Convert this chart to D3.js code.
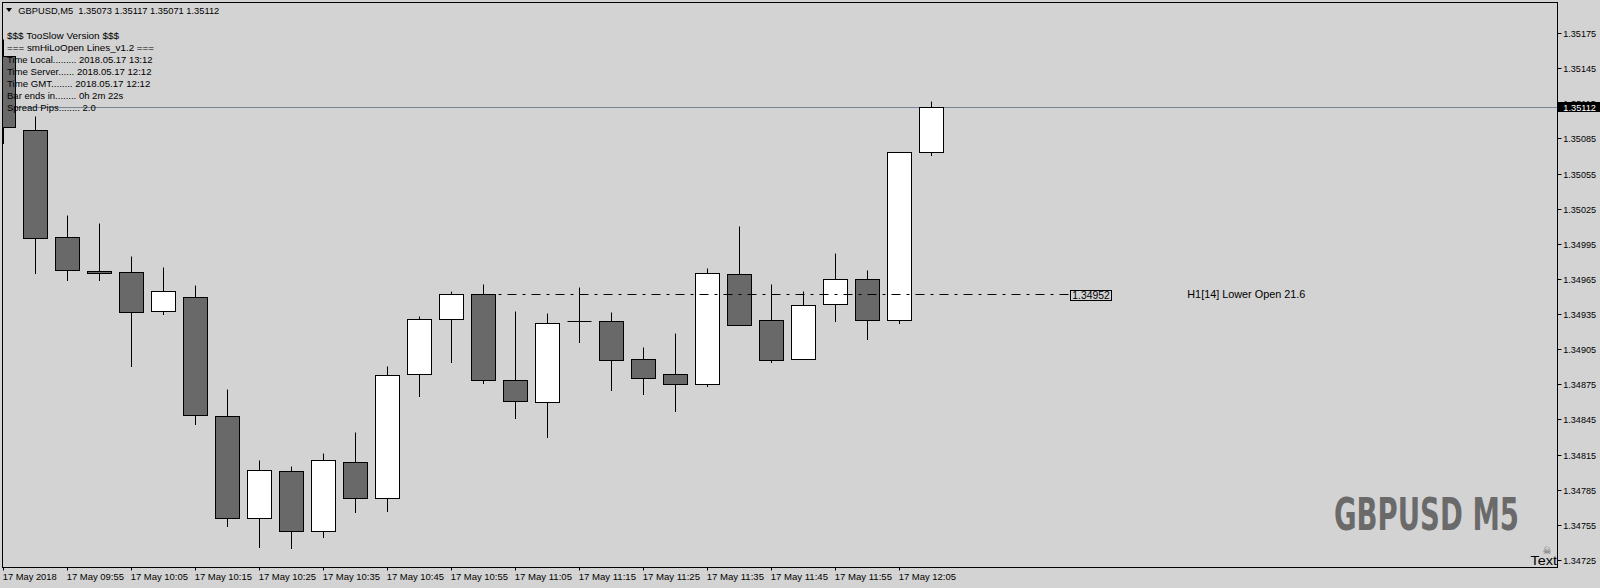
<!DOCTYPE html>
<html><head><meta charset="utf-8">
<script src="https://cdn.jsdelivr.net/npm/d3@7/dist/d3.min.js"></script>
<style>html,body{margin:0;padding:0;background:#d3d3d3;overflow:hidden}text{white-space:pre}</style>
</head><body><svg id="c" width="1600" height="588"></svg>
<script>
// ---- data ----
const times = ["09:45","09:50","09:55","10:00","10:05","10:10","10:15","10:20","10:25","10:30",
  "10:35","10:40","10:45","10:50","10:55","11:00","11:05","11:10","11:15","11:20",
  "11:25","11:30","11:35","11:40","11:45","11:50","11:55","12:00","12:05","12:10"];
const opens  = [1.35155,1.35092,1.35001,1.34972,1.34971,1.34938,1.34950,1.34848,1.34761,1.34801,
  1.34750,1.34809,1.34778,1.34884,1.34931,1.34952,1.34879,1.34860,1.34929,1.34929,
  1.34897,1.34884,1.34875,1.34969,1.34930,1.34897,1.34944,1.34965,1.34930,1.35073];
const highs  = [1.35170,1.35104,1.35020,1.35013,1.34985,1.34975,1.34960,1.34871,1.34810,1.34805,
  1.34816,1.34834,1.34891,1.34933,1.34955,1.34961,1.34938,1.34936,1.34958,1.34937,
  1.34907,1.34919,1.34974,1.35010,1.34961,1.34955,1.34987,1.34973,1.35073,1.35117];
const lows   = [1.35081,1.34970,1.34964,1.34964,1.34891,1.34935,1.34841,1.34754,1.34736,1.34735,
  1.34745,1.34766,1.34767,1.34865,1.34894,1.34876,1.34846,1.34830,1.34911,1.34870,
  1.34867,1.34852,1.34874,1.34926,1.34894,1.34897,1.34929,1.34914,1.34927,1.35071];
const closes = [1.35095,1.35000,1.34973,1.34970,1.34937,1.34955,1.34849,1.34761,1.34802,1.34750,
  1.34810,1.34778,1.34883,1.34931,1.34952,1.34879,1.34861,1.34927,1.34929,1.34896,
  1.34880,1.34875,1.34970,1.34926,1.34896,1.34943,1.34965,1.34930,1.35073,1.35112];
const yTicks = [1.35175,1.35145,1.35115,1.35085,1.35055,1.35025,1.34995,1.34965,
  1.34935,1.34905,1.34875,1.34845,1.34815,1.34785,1.34755,1.34725];
const xTickTimes  = ["09:45","09:55","10:05","10:15","10:25","10:35","10:45","10:55",
  "11:05","11:15","11:25","11:35","11:45","11:55","12:05"];
const xTickLabels = ["17 May 2018","17 May 09:55","17 May 10:05","17 May 10:15","17 May 10:25",
  "17 May 10:35","17 May 10:45","17 May 10:55","17 May 11:05","17 May 11:15","17 May 11:25",
  "17 May 11:35","17 May 11:45","17 May 11:55","17 May 12:05"];
const headerText = "GBPUSD,M5  1.35073 1.35117 1.35071 1.35112";
const infoLines = ["$$$ TooSlow Version $$$","=== smHiLoOpen Lines_v1.2 ===",
  "Time Local......... 2018.05.17 13:12","Time Server...... 2018.05.17 12:12",
  "Time GMT........ 2018.05.17 12:12","Bar ends in........ 0h 2m 22s","Spread Pips........ 2.0"];
const bidPrice = 1.35112;
const levelPrice = 1.34952;
const levelStart = "11:00";
const levelLabel = "H1[14] Lower Open 21.6";
const watermark = "GBPUSD M5";

// ---- layout ----
const FONT = "'Liberation Sans', Arial, sans-serif";
const svg = d3.select("#c");
const parse = s => new Date(2018, 4, 17, +s.slice(0,2), +s.slice(3,5));
const x = d3.scaleTime().domain([parse("09:45"), parse("09:50")]).range([3.5, 35.5]);
const y = d3.scaleLinear().domain([1.34725, 1.35175]).range([560.5, 33.5]);
const cy = v => Math.round(y(v) - 0.5) + 0.5;
const L = 2.5, R = 1557.5, T = 2.5, B = 567.5;

svg.append("rect").attr("width",1600).attr("height",588).attr("fill","#d3d3d3");
svg.append("defs").append("clipPath").attr("id","clip")
  .append("rect").attr("x",L).attr("y",T).attr("width",R-L).attr("height",B-T);
const plot = svg.append("g").attr("clip-path","url(#clip)");

// bid line
plot.append("line").attr("x1",L).attr("x2",R).attr("y1",cy(bidPrice)).attr("y2",cy(bidPrice))
  .attr("stroke","#778899").attr("stroke-width",1);

// candles
const bars = times.map((t,i)=>({t:parse(t),o:opens[i],h:highs[i],l:lows[i],c:closes[i]}));
const g = plot.selectAll("g.bar").data(bars).join("g");
g.append("line").attr("x1",d=>x(d.t)).attr("x2",d=>x(d.t))
  .attr("y1",d=>cy(d.h)).attr("y2",d=>cy(d.l)+0.5).attr("stroke","#000").attr("stroke-width",1);
g.each(function(d){
  const sel = d3.select(this);
  const top = cy(Math.max(d.o,d.c)), bot = cy(Math.min(d.o,d.c));
  const cx = x(d.t);
  if (bot - top < 1) {
    sel.append("line").attr("x1",cx-12).attr("x2",cx+12).attr("y1",top).attr("y2",top)
      .attr("stroke","#000").attr("stroke-width",1);
  } else {
    sel.append("rect").attr("x",cx-12).attr("y",top).attr("width",24).attr("height",bot-top)
      .attr("fill", d.c > d.o ? "#ffffff" : "#696969").attr("stroke","#000").attr("stroke-width",1);
  }
});

// level line (dash-dot)
const lx1 = x(parse(levelStart)), lx2 = 1070.5;
plot.append("line").attr("x1",lx1).attr("x2",lx2).attr("y1",cy(levelPrice)).attr("y2",cy(levelPrice))
  .attr("stroke","#000").attr("stroke-width",1).attr("stroke-dasharray","9,6,3,6");
plot.append("rect").attr("x",1070.5).attr("y",290.5).attr("width",41).attr("height",10)
  .attr("fill","none").attr("stroke","#000");
plot.append("text").attr("x",1072.3).attr("y",299).attr("font-family",FONT).attr("font-size",10.5)
  .attr("textLength",37.5).attr("lengthAdjust","spacingAndGlyphs").text(levelPrice.toFixed(5));
plot.append("text").attr("x",1187.3).attr("y",298.3).attr("font-family",FONT).attr("font-size",11)
  .attr("textLength",118).attr("lengthAdjust","spacingAndGlyphs").text(levelLabel);

// watermark (scaled horizontally so its box really is 185px wide)
const wm = plot.append("text").attr("x",0).attr("y",0)
  .attr("font-family","'DejaVu Sans Condensed','DejaVu Sans',sans-serif").attr("font-weight","bold")
  .attr("font-size",44).attr("fill","#6a6a6a").text(watermark);
const wmW = wm.node().getComputedTextLength();
wm.attr("transform",`translate(1334,529.5) scale(${185/wmW},1)`);
plot.append("text").attr("x",1547).attr("y",553.5).attr("text-anchor","middle")
  .attr("font-family","'DejaVu Sans',sans-serif").attr("font-size",10).attr("fill","#555").text("\u2620");
svg.append("text").attr("x",1530.5).attr("y",564.5).attr("font-family",FONT).attr("font-size",13.5)
  .attr("textLength",26.5).attr("lengthAdjust","spacingAndGlyphs").text("Text");

// frame
svg.append("rect").attr("x",L).attr("y",T).attr("width",R-L).attr("height",B-T)
  .attr("fill","none").attr("stroke","#000");

// y axis
const ya = svg.append("g");
yTicks.forEach(v=>{
  const yy = cy(v);
  ya.append("line").attr("x1",R).attr("x2",R+4).attr("y1",yy).attr("y2",yy).attr("stroke","#000");
  ya.append("text").attr("x",1563.3).attr("y",yy+3.4).attr("font-family",FONT).attr("font-size",9.5)
    .attr("textLength",32.7).attr("lengthAdjust","spacingAndGlyphs").text(d3.format(".5f")(v));
});
ya.append("rect").attr("x",1558).attr("y",cy(bidPrice)-5.5).attr("width",42).attr("height",10).attr("fill","#000");
ya.append("text").attr("x",1563.3).attr("y",cy(bidPrice)+3.4).attr("font-family",FONT).attr("font-size",9.5)
  .attr("fill","#fff").attr("textLength",32.7).attr("lengthAdjust","spacingAndGlyphs").text(bidPrice.toFixed(5));

// x axis
const xa = svg.append("g");
xTickTimes.forEach((t,i)=>{
  const xx = x(parse(t));
  xa.append("line").attr("x1",xx).attr("x2",xx).attr("y1",B).attr("y2",B+3).attr("stroke","#000");
  xa.append("text").attr("x",xx-0.8).attr("y",579.5).attr("font-family",FONT).attr("font-size",9.5)
    .attr("textLength", i===0 ? 54 : 57.3).attr("lengthAdjust","spacingAndGlyphs").text(xTickLabels[i]);
});

// header + info text
svg.append("path").attr("d","M6,8 L12,8 L9,12 Z").attr("fill","#000");
svg.append("text").attr("x",18.3).attr("y",14).attr("font-family",FONT).attr("font-size",9.5)
  .attr("textLength",201).attr("lengthAdjust","spacingAndGlyphs").text(headerText);
const infoW = [112,147,145.5,144.5,143.3,116.3,88.7];
infoLines.forEach((s,i)=>{
  svg.append("text").attr("x",7).attr("y",38.6+12.05*i).attr("font-family",FONT).attr("font-size",9.5)
    .attr("textLength",infoW[i]).attr("lengthAdjust","spacingAndGlyphs").text(s);
});
</script></body></html>
